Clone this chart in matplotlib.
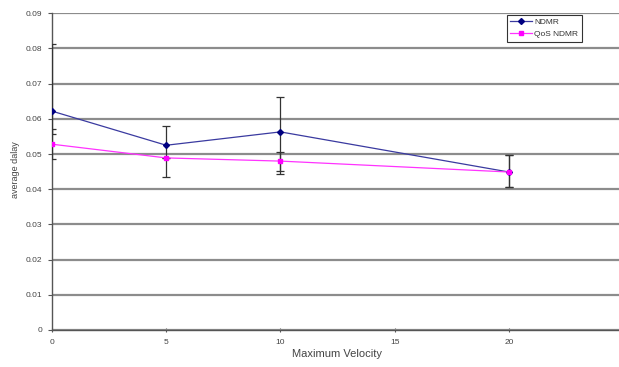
import matplotlib
matplotlib.use("Agg")
import matplotlib.pyplot as plt

plt.rcParams['font.family'] = ['Liberation Sans', 'DejaVu Sans']

velocity = [0, 5, 10, 20]
ndmr = [0.0622, 0.0525, 0.0563, 0.0449]
ndmr_err_low = [0.0064, 0.0090, 0.0121, 0.0042]
ndmr_err_high = [0.0191, 0.0054, 0.0098, 0.0048]
qos = [0.0528, 0.0489, 0.0480, 0.0449]
qos_err_low = [0.0041, 0.0, 0.0028, 0.0042]
qos_err_high = [0.0043, 0.0, 0.0026, 0.0048]
yticks = [0, 0.01, 0.02, 0.03, 0.04, 0.05, 0.06, 0.07, 0.08, 0.09]
ytick_labels = ['0', '0.01', '0.02', '0.03', '0.04', '0.05', '0.06', '0.07', '0.08', '0.09']
xticks = [0, 5, 10, 15, 20]

fig = plt.figure(figsize=(6.19, 3.67), dpi=100)
W, H = 619, 367
x0, x1 = 52, 623
y0, y1 = 330, 13.3
ax = fig.add_axes([x0 / W, 1 - y0 / H, (x1 - x0) / W, (y0 - y1) / H])

ax.set_xlim(0, 25)
ax.set_ylim(0, 0.09)
ax.set_yticks(yticks)
ax.set_yticklabels(ytick_labels)
ax.set_xticks(xticks)
ax.yaxis.grid(True, color='#8c8c8c', linewidth=1.6)
ax.set_axisbelow(True)
for s in ['top', 'right']:
    ax.spines[s].set_visible(False)
for s in ['left', 'bottom']:
    ax.spines[s].set_color('#555555')
    ax.spines[s].set_linewidth(1.0)
ax.tick_params(axis='both', colors='#555555', labelcolor='#444444', labelsize=6, length=3, width=0.8)
ax.tick_params(axis='y', pad=4)
ax.tick_params(axis='x', direction='inout', pad=5)

ax.errorbar(velocity, ndmr, yerr=[ndmr_err_low, ndmr_err_high], fmt='none',
            ecolor='#333333', elinewidth=0.9, capsize=3, capthick=0.9, zorder=3)
ax.errorbar(velocity, qos, yerr=[qos_err_low, qos_err_high], fmt='none',
            ecolor='#333333', elinewidth=0.9, capsize=3, capthick=0.9, zorder=3)
ax.plot(velocity, ndmr, color='#3a3aa0', linewidth=0.9, marker='D', markersize=3,
        markerfacecolor='#000080', markeredgecolor='#000080', label='NDMR', zorder=4)
ax.plot(velocity, qos, color='#ff33ff', linewidth=0.9, marker='s', markersize=3.5,
        markerfacecolor='#ff00ff', markeredgecolor='#ff00ff', label='QoS NDMR', zorder=4)

leg = ax.legend(loc='upper left', bbox_to_anchor=((507 - x0) / (x1 - x0), (y0 - 15) / (y0 - y1)),
                fontsize=6, frameon=True, fancybox=False, edgecolor='black',
                handlelength=2.6, borderpad=0.4, labelspacing=0.5, handletextpad=0.3,
                borderaxespad=0)
leg.get_frame().set_linewidth(0.8)
for t in leg.get_texts():
    t.set_color('#333333')

fig.text(337 / W, 1 - 354 / H, 'Maximum Velocity', ha='center', va='center', fontsize=8, color='#444444')
fig.text(16 / W, 1 - 170 / H, 'average dalay', ha='center', va='center', rotation=90, fontsize=6.5, color='#444444')

fig.savefig('out.png', dpi=100)
